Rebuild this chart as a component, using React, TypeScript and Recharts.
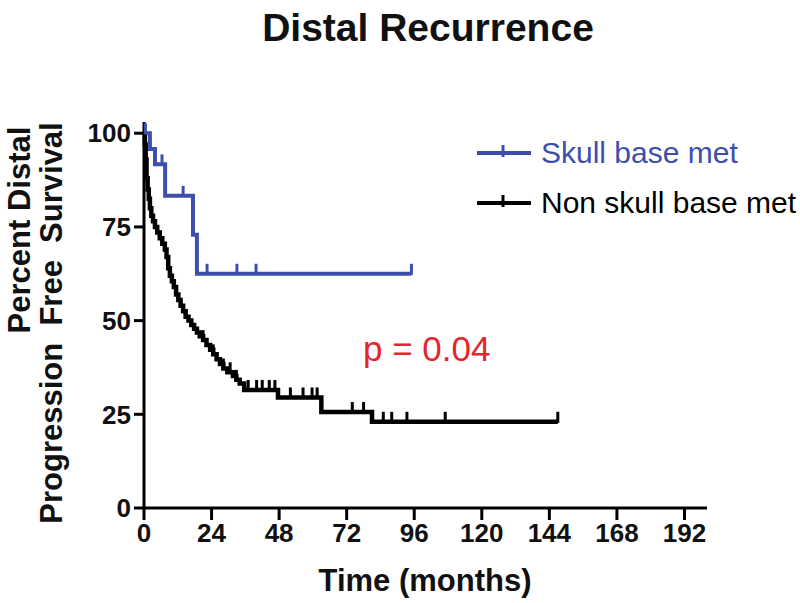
import { LineChart, Line, XAxis, YAxis } from "recharts";

const xTicks = [0, 24, 48, 72, 96, 120, 144, 168, 192];
const yTicks = [0, 25, 50, 75, 100];

// skull base met (blue)
const skullTimes = [0, 0.5, 2.1, 3.9, 6.4, 7.5, 13.9, 17.4, 18.8, 22.4, 33, 39.8, 95];
const skullSurv = [100, 100, 95.8, 91.7, 91.7, 83.3, 83.3, 72.9, 62.5, 62.5, 62.5, 62.5, 62.5];
const skullCens = [0, 1, 0, 0, 1, 0, 1, 0, 0, 1, 1, 1, 1];

// non skull base met (black)
const nonTimes = [
  0, 0.3, 0.6, 0.9, 1.3, 1.7, 2.1, 2.6, 3.2, 3.9, 4.7, 5.6, 6.5, 7.4, 8.0, 8.6, 9.2, 9.9, 10.6, 11.4,
  12.2, 13.0, 13.9, 14.8, 15.8, 16.8, 17.8, 18.8, 19.8, 21.0, 22.2, 23.5, 24.6, 25.8, 27.0, 28.2, 29.6,
  30.6, 31.6, 32.8, 34.0, 35.6, 37.0, 40.0, 42.0, 44.5, 46.5, 47.6, 52.0, 56.5, 59.7, 61.5, 63.0, 74.0,
  78.0, 81.0, 85.0, 88.0, 93.4, 107.0, 147.0,
];
const nonSurv = [
  100, 97, 93, 88, 85, 82.5, 80, 78, 76.5, 75, 73.5, 72, 70.5, 69, 67, 64, 62, 60.5, 59, 57,
  55.5, 54, 52.5, 51, 50, 48.8, 47.8, 46.8, 45.8, 44.8, 43.5, 42.2, 41, 39.7, 38.4, 37.2, 36.2,
  36.2, 35.2, 34.2, 33.2, 31.5, 31.5, 31.5, 31.5, 31.5, 31.5, 29.5, 29.5, 29.5, 29.5, 29.5, 25.6, 25.6,
  25.6, 23, 23, 23, 23, 23, 23,
];
const nonCens = [
  0, 0, 0, 0, 0, 0, 0, 0, 0, 0, 0, 0, 0, 0, 0, 0, 0, 0, 0, 0,
  0, 0, 0, 0, 0, 0, 0, 0, 0, 1, 0, 0, 1, 0, 0, 1, 0,
  1, 0, 1, 0, 0, 1, 1, 1, 1, 1, 0, 1, 1, 1, 1, 0, 1,
  1, 0, 1, 1, 1, 1, 1,
];

const BLUE = "#3d4fab";
const BLACK = "#000000";
const RED = "#e2262b";
const FONT = "'Liberation Sans', Arial, Helvetica, sans-serif";

const skullData = skullTimes.map((t, i) => ({ t, s: skullSurv[i], c: skullCens[i] }));
const nonData = nonTimes.map((t, i) => ({ t, s: nonSurv[i], c: nonCens[i] }));

const censorDot = (color: string) => (props: any) => {
  const { cx, cy, payload, index } = props;
  if (!payload || !payload.c || cx == null || cy == null) return <g key={index} />;
  return <line key={index} x1={cx} x2={cx} y1={cy - 10} y2={cy + 1} stroke={color} strokeWidth={3} />;
};

const legendItems = [
  { name: "Skull base met", color: BLUE, y: 153 },
  { name: "Non skull base met", color: BLACK, y: 203 },
];

export default function App() {
  const tickStyle = { fill: "#111", fontSize: 26, fontWeight: 700, fontFamily: FONT };
  return (
    <div style={{ position: "absolute", left: 0, top: 0, width: 800, height: 603, background: "#fff" }}>
      <LineChart width={800} height={603} margin={{ top: 122, right: 93, bottom: 0, left: 0 }}>
        <XAxis
          dataKey="t"
          type="number"
          domain={[0, 200]}
          ticks={xTicks}
          interval={0}
          allowDuplicatedCategory={false}
          height={95}
          tickSize={12}
          tickMargin={4}
          tick={tickStyle}
          axisLine={{ stroke: "#000", strokeWidth: 3 }}
          tickLine={{ stroke: "#000", strokeWidth: 3 }}
        />
        <YAxis
          type="number"
          domain={[0, 103]}
          ticks={yTicks}
          interval={0}
          width={144}
          tickSize={10}
          tickMargin={3}
          tick={tickStyle}
          axisLine={{ stroke: "#000", strokeWidth: 3 }}
          tickLine={{ stroke: "#000", strokeWidth: 3 }}
        />
        <Line
          data={nonData}
          dataKey="s"
          type="stepAfter"
          stroke={BLACK}
          strokeWidth={4.5}
          dot={censorDot(BLACK)}
          activeDot={false}
          isAnimationActive={false}
        />
        <Line
          data={skullData}
          dataKey="s"
          type="stepAfter"
          stroke={BLUE}
          strokeWidth={4}
          dot={censorDot(BLUE)}
          activeDot={false}
          isAnimationActive={false}
        />
      </LineChart>
      <svg
        width={800}
        height={603}
        style={{ position: "absolute", left: 0, top: 0, pointerEvents: "none" }}
        fontFamily={FONT}
      >
        <text x={428} y={41} textAnchor="middle" fontSize={39} fontWeight={700} fill="#111">
          Distal Recurrence
        </text>
        <text x={425} y={591} textAnchor="middle" fontSize={31} fontWeight={700} fill="#111">
          Time (months)
        </text>
        <text x={363} y={361} fontSize={35} fill={RED}>
          p = 0.04
        </text>
        <text transform="translate(30,230) rotate(-90)" textAnchor="middle" fontSize={31} fontWeight={700} fill="#111">
          Percent Distal
        </text>
        <text transform="translate(62,323) rotate(-90)" textAnchor="middle" fontSize={31} fontWeight={700} fill="#111" style={{ whiteSpace: "pre" }}>
          {"Progression  Free  Survival"}
        </text>
        {legendItems.map((it) => (
          <g key={it.name}>
            <line x1={477} x2={531} y1={it.y} y2={it.y} stroke={it.color} strokeWidth={4} />
            <line x1={503} x2={503} y1={it.y - 8} y2={it.y + 4} stroke={it.color} strokeWidth={3} />
            <text x={541} y={it.y + 10} fontSize={30} fill={it.color}>
              {it.name}
            </text>
          </g>
        ))}
      </svg>
    </div>
  );
}
